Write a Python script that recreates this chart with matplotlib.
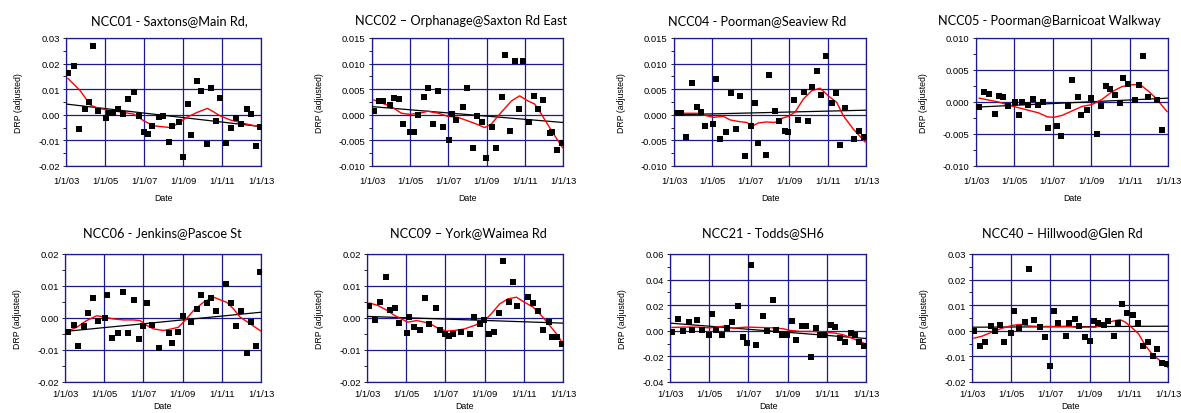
import matplotlib
matplotlib.use("Agg")
import matplotlib.pyplot as plt
import numpy as np
from matplotlib.ticker import MultipleLocator

# ---------------- data (decimal years, DRP adjusted) ----------------
ncc01_t = [2003.10, 2003.41, 2003.65, 2003.96, 2004.16, 2004.40, 2004.64, 2005.03, 2005.22, 2005.39,
           2005.68, 2005.92, 2006.19, 2006.48, 2006.72, 2007.01, 2007.18, 2007.42, 2007.78, 2007.97,
           2008.27, 2008.44, 2008.77, 2009.01, 2009.25, 2009.43, 2009.74, 2009.93, 2010.24, 2010.43,
           2010.68, 2010.92, 2011.23, 2011.47, 2011.72, 2011.96, 2012.27, 2012.47, 2012.73, 2012.95]
ncc01_drp = [0.0164, 0.0192, -0.0056, 0.0022, 0.0051, 0.0269, 0.0014, -0.0014, 0.0007, 0.0007,
             0.0022, 0.0004, 0.0061, 0.0090, -0.0003, -0.0067, -0.0076, -0.0043, -0.0010, -0.0004,
             -0.0106, -0.0044, -0.0030, -0.0166, 0.0043, -0.0080, 0.0132, 0.0094, -0.0115, 0.0103,
             -0.0025, 0.0065, -0.0110, -0.0052, -0.0013, -0.0034, 0.0022, 0.0004, -0.0123, -0.0047]
ncc01_smooth_t = [2003.10, 2003.73, 2004.25, 2004.67, 2005.26, 2005.96, 2006.46, 2006.98, 2007.49, 2008.00,
                  2008.34, 2008.69, 2009.19, 2009.71, 2010.25, 2010.56, 2010.90, 2011.42, 2011.93, 2012.44, 2012.95]
ncc01_smooth = [0.0142, 0.0094, 0.0038, 0.0025, 0.0018, 0.0009, 0.0003, -0.0023, -0.0043, -0.0047,
                -0.0050, -0.0037, -0.0010, 0.0009, 0.0025, 0.0012, -0.0004, -0.0020, -0.0030, -0.0039, -0.0047]
ncc01_trend = [0.0042, -0.0046]

ncc02_t = [2003.10, 2003.35, 2003.59, 2003.92, 2004.17, 2004.40, 2004.64, 2004.97, 2005.20, 2005.39,
           2005.71, 2005.95, 2006.20, 2006.46, 2006.70, 2007.01, 2007.21, 2007.40, 2007.78, 2007.97,
           2008.29, 2008.48, 2008.78, 2008.95, 2009.28, 2009.47, 2009.79, 2009.98, 2010.24, 2010.49,
           2010.68, 2010.92, 2011.24, 2011.48, 2011.69, 2011.94, 2012.30, 2012.42, 2012.69, 2012.95]
ncc02_drp = [0.00065, 0.0026, 0.0026, 0.0019, 0.0033, 0.0031, -0.0017, -0.0033, -0.0033, -0.0001,
             0.0035, 0.0052, -0.0017, 0.0047, -0.0024, -0.0050, 0.0002, -0.0010, 0.0016, 0.0052,
             -0.0064, -0.0003, -0.0014, -0.0084, -0.0024, -0.0064, 0.0035, 0.0116, -0.0031, 0.0106,
             0.0012, 0.0106, -0.0014, 0.0037, 0.0011, 0.0028, -0.0036, -0.0033, -0.0069, -0.0055]
ncc02_smooth_t = [2003.10, 2003.58, 2004.01, 2004.54, 2004.97, 2005.50, 2005.93, 2006.46, 2006.98, 2007.50,
                  2008.03, 2008.46, 2008.90, 2009.25, 2009.77, 2010.30, 2010.73, 2011.17, 2011.52, 2011.87,
                  2012.30, 2012.57, 2012.97]
ncc02_smooth = [0.0029, 0.0022, 0.0016, 0.0003, 0.0001, 0.0003, 0.0007, 0.0003, -0.0003, -0.0005,
                -0.0012, -0.0018, -0.0025, -0.0018, 0.0005, 0.0027, 0.0037, 0.0027, 0.0021, 0.0001,
                -0.0025, -0.0041, -0.0064]
ncc02_trend = [0.0016, -0.0015]

ncc04_t = [2003.10, 2003.35, 2003.63, 2003.95, 2004.20, 2004.39, 2004.63, 2005.02, 2005.20, 2005.40,
           2005.69, 2005.95, 2006.23, 2006.46, 2006.70, 2007.01, 2007.20, 2007.39, 2007.77, 2007.96,
           2008.27, 2008.47, 2008.76, 2008.95, 2009.26, 2009.44, 2009.77, 2009.96, 2010.20, 2010.45,
           2010.64, 2010.90, 2011.21, 2011.45, 2011.65, 2011.91, 2012.40, 2012.66, 2012.91]
ncc04_drp = [0.0003, 0.0003, -0.0044, 0.0063, 0.0016, 0.0005, -0.0022, -0.0018, 0.0069, -0.0048,
             -0.0033, 0.0042, -0.0028, 0.0037, -0.0080, -0.0022, 0.0023, -0.0055, -0.0078, 0.0078,
             0.0008, -0.0012, -0.0031, -0.0033, 0.0028, -0.0010, 0.0045, -0.0012, 0.0055, 0.0086,
             0.0039, 0.0114, 0.0023, 0.0042, -0.0059, 0.0014, -0.0048, -0.0031, -0.0043]
ncc04_smooth_t = [2003.10, 2003.66, 2004.18, 2004.62, 2005.05, 2005.57, 2005.92, 2006.35, 2006.79, 2007.08,
                  2007.39, 2007.83, 2008.26, 2008.61, 2008.95, 2009.30, 2009.74, 2010.17, 2010.61, 2011.04,
                  2011.48, 2011.82, 2012.34, 2012.95]
ncc04_smooth = [0.0003, 0.0003, 0.0003, -0.0001, -0.0005, -0.0003, -0.0010, -0.0013, -0.0015, -0.0022,
                -0.0016, -0.0014, -0.0015, -0.0007, -0.0003, 0.0005, 0.0031, 0.0047, 0.0052, 0.0037,
                0.0024, -0.0002, -0.0028, -0.0053]
ncc04_trend = [0.0000, 0.0009]

ncc05_t = [2003.17, 2003.42, 2003.66, 2003.97, 2004.22, 2004.41, 2004.67, 2005.03, 2005.22, 2005.41,
           2005.71, 2005.97, 2006.23, 2006.49, 2006.73, 2007.22, 2007.41, 2007.77, 2007.99, 2008.30,
           2008.49, 2008.80, 2009.00, 2009.30, 2009.49, 2009.79, 2010.00, 2010.26, 2010.50, 2010.68,
           2010.92, 2011.27, 2011.49, 2011.68, 2011.94, 2012.43, 2012.69]
ncc05_drp = [-0.0008, 0.0015, 0.0013, -0.0019, 0.0009, 0.0008, -0.0007, 0.0000, -0.0021, 0.0000,
             -0.0005, 0.0004, -0.0005, 0.0000, -0.0041, -0.0037, -0.0053, -0.0007, 0.0035, 0.0008,
             -0.0021, -0.0013, 0.0006, -0.0050, -0.0007, 0.0025, 0.0020, 0.0011, -0.0002, 0.0038,
             0.0028, 0.0003, 0.0026, 0.0072, 0.0008, 0.0003, -0.0043]
ncc05_smooth_t = [2003.17, 2003.66, 2004.18, 2004.70, 2005.22, 2005.74, 2006.26, 2006.70, 2007.05, 2007.48,
                  2008.00, 2008.52, 2009.04, 2009.56, 2010.08, 2010.60, 2011.11, 2011.55, 2011.98, 2012.43, 2012.95]
ncc05_smooth = [0.0006, 0.0003, 0.0000, -0.0005, -0.0009, -0.0013, -0.0017, -0.0023, -0.0024, -0.0021,
                -0.0014, -0.0007, -0.0004, 0.0004, 0.0016, 0.0024, 0.0027, 0.0027, 0.0017, 0.0004, -0.0015]
ncc05_trend = [-0.0008, 0.0006]

ncc06_t = [2003.14, 2003.44, 2003.68, 2003.99, 2004.17, 2004.43, 2004.67, 2005.02, 2005.16, 2005.40,
           2005.70, 2005.96, 2006.20, 2006.50, 2006.76, 2007.00, 2007.17, 2007.44, 2007.80, 2008.29,
           2008.46, 2008.78, 2009.02, 2009.45, 2009.75, 2009.94, 2010.23, 2010.45, 2010.69, 2011.23,
           2011.47, 2011.72, 2011.96, 2012.27, 2012.47, 2012.73, 2012.97]
ncc06_drp = [-0.0044, -0.0021, -0.0086, -0.0025, 0.0016, 0.0062, -0.0010, 0.0000, 0.0073, -0.0063,
             -0.0047, 0.0081, -0.0047, 0.0055, -0.0066, -0.0025, 0.0046, -0.0021, -0.0093, -0.0047,
             -0.0078, -0.0044, 0.0006, -0.0013, 0.0029, 0.0073, 0.0046, 0.0062, 0.0023, 0.0106,
             0.0046, -0.0025, 0.0023, -0.0108, -0.0013, -0.0086, 0.0145]
ncc06_smooth_t = [2003.00, 2003.60, 2004.10, 2004.62, 2005.02, 2005.47, 2005.98, 2006.49, 2006.83, 2007.17,
                  2007.51, 2008.02, 2008.44, 2008.78, 2009.12, 2009.55, 2010.06, 2010.57, 2010.91, 2011.25,
                  2011.59, 2011.93, 2012.44, 2013.00]
ncc06_smooth = [-0.0044, -0.0029, -0.0008, 0.0007, 0.0003, -0.0003, -0.0006, -0.0006, -0.0008, -0.0023,
                -0.0034, -0.0039, -0.0034, -0.0029, -0.0008, 0.0023, 0.0049, 0.0065, 0.0057, 0.0049,
                0.0029, 0.0003, -0.0018, -0.0041]
ncc06_trend = [-0.0042, 0.0018]

ncc09_t = [2003.12, 2003.43, 2003.66, 2003.97, 2004.16, 2004.41, 2004.65, 2005.02, 2005.16, 2005.40,
           2005.69, 2005.94, 2006.18, 2006.50, 2006.74, 2006.98, 2007.17, 2007.40, 2007.78, 2008.27,
           2008.44, 2008.77, 2008.99, 2009.24, 2009.46, 2009.75, 2009.94, 2010.24, 2010.43, 2010.67,
           2011.21, 2011.47, 2011.72, 2011.96, 2012.27, 2012.46, 2012.69, 2012.95]
ncc09_drp = [0.0036, -0.0006, 0.0050, 0.0129, 0.0025, 0.0031, -0.0016, -0.0047, 0.0003, -0.0029,
             -0.0039, 0.0063, -0.0020, 0.0032, -0.0039, -0.0049, -0.0055, -0.0049, -0.0044, -0.0049,
             0.0002, -0.0020, -0.0006, -0.0051, -0.0044, 0.0016, 0.0179, 0.0050, 0.0111, 0.0039,
             0.0065, 0.0047, 0.0023, -0.0037, -0.0012, -0.0058, -0.0060, -0.0081]
ncc09_smooth_t = [2003.12, 2003.56, 2003.99, 2004.41, 2004.75, 2005.09, 2005.52, 2005.94, 2006.28, 2006.62,
                  2007.05, 2007.47, 2007.98, 2008.49, 2008.92, 2009.34, 2009.77, 2010.19, 2010.62, 2011.04,
                  2011.47, 2011.89, 2012.32, 2012.74, 2013.00]
ncc09_smooth = [0.0047, 0.0039, 0.0025, 0.0008, -0.0003, -0.0013, -0.0008, -0.0013, -0.0020, -0.0032,
                -0.0041, -0.0039, -0.0034, -0.0023, -0.0013, 0.0013, 0.0044, 0.0060, 0.0065, 0.0049,
                0.0034, 0.0008, -0.0023, -0.0055, -0.0081]
ncc09_trend = [0.0005, -0.0016]

ncc21_t = [2003.10, 2003.39, 2003.65, 2003.95, 2004.14, 2004.38, 2004.63, 2004.99, 2005.13, 2005.36,
           2005.67, 2005.91, 2006.16, 2006.45, 2006.71, 2006.95, 2007.13, 2007.37, 2007.74, 2007.93,
           2008.24, 2008.43, 2008.73, 2008.97, 2009.21, 2009.41, 2009.72, 2009.92, 2010.19, 2010.45,
           2010.64, 2010.88, 2011.20, 2011.44, 2011.67, 2011.93, 2012.25, 2012.44, 2012.66, 2012.90]
ncc21_drp = [-0.0010, 0.0094, 0.0000, 0.0065, 0.0010, 0.0086, 0.0010, -0.0029, 0.0132, 0.0010,
             -0.0036, 0.0021, 0.0065, 0.0197, -0.0047, -0.0094, 0.0517, -0.0114, 0.0112, 0.0000,
             0.0244, 0.0010, -0.0036, -0.0036, 0.0075, -0.0075, 0.0036, 0.0036, -0.0205, 0.0021,
             -0.0036, -0.0036, 0.0042, 0.0029, -0.0057, -0.0091, -0.0018, -0.0036, -0.0091, -0.0122]
ncc21_smooth_t = [2003.10, 2003.68, 2004.36, 2005.04, 2005.72, 2006.23, 2006.91, 2007.59, 2008.27, 2008.78,
                  2009.12, 2009.63, 2010.31, 2010.82, 2011.41, 2011.84, 2012.35, 2012.95]
ncc21_smooth = [0.0026, 0.0029, 0.0029, 0.0023, 0.0036, 0.0021, 0.0029, 0.0026, 0.0023, 0.0016,
                0.0003, -0.0005, -0.0005, -0.0010, -0.0018, -0.0031, -0.0062, -0.0101]
ncc21_trend = [0.0060, -0.0060]

ncc40_t = [2003.10, 2003.41, 2003.66, 2003.97, 2004.16, 2004.41, 2004.65, 2005.01, 2005.14, 2005.38,
           2005.69, 2005.93, 2006.18, 2006.49, 2006.74, 2006.98, 2007.17, 2007.40, 2007.78, 2007.97,
           2008.27, 2008.46, 2008.77, 2009.00, 2009.24, 2009.45, 2009.73, 2009.94, 2010.24, 2010.43,
           2010.67, 2010.93, 2011.21, 2011.47, 2011.71, 2011.96, 2012.25, 2012.44, 2012.69, 2012.95]
ncc40_drp = [0.0000, -0.0061, -0.0042, 0.0019, 0.0000, 0.0023, -0.0042, -0.0009, 0.0079, 0.0010,
             0.0034, 0.0240, 0.0043, 0.0013, -0.0025, -0.0138, 0.0079, 0.0030, -0.0019, 0.0030,
             0.0047, 0.0019, -0.0025, -0.0038, 0.0038, 0.0030, 0.0023, 0.0038, -0.0019, 0.0030,
             0.0103, 0.0070, 0.0062, 0.0032, -0.0061, -0.0042, -0.0100, -0.0070, -0.0126, -0.0131]
ncc40_smooth_t = [2003.10, 2003.51, 2004.02, 2004.53, 2005.05, 2005.47, 2005.89, 2006.41, 2006.91, 2007.43,
                  2007.94, 2008.36, 2008.78, 2009.29, 2009.80, 2010.31, 2010.56, 2010.82, 2011.16, 2011.50,
                  2011.84, 2012.18, 2012.61, 2013.00]
ncc40_smooth = [-0.0029, -0.0021, -0.0005, 0.0010, 0.0021, 0.0025, 0.0019, 0.0017, 0.0017, 0.0017,
                0.0018, 0.0013, 0.0014, 0.0014, 0.0030, 0.0040, 0.0043, 0.0034, 0.0012, -0.0012,
                -0.0057, -0.0090, -0.0118, -0.0144]
ncc40_trend = [0.0014, 0.0018]

titles = ["NCC01 - Saxtons@Main Rd,", "NCC02 \u2013 Orphanage@Saxton Rd East",
          "NCC04 - Poorman@Seaview Rd", "NCC05 - Poorman@Barnicoat Walkway",
          "NCC06 - Jenkins@Pascoe St", "NCC09 \u2013 York@Waimea Rd",
          "NCC21 - Todds@SH6", "NCC40 \u2013 Hillwood@Glen Rd"]

x_ticks = [2003, 2005, 2007, 2009, 2011, 2013]
x_tick_labels = ["1/1/03", "1/1/05", "1/1/07", "1/1/09", "1/1/11", "1/1/13"]
trend_t = [2003.0, 2013.0]

# y axis settings per panel: (min, max, step, decimals)
y_axes = [(-0.02, 0.03, 0.01, 2), (-0.010, 0.015, 0.005, 3), (-0.010, 0.015, 0.005, 3),
          (-0.010, 0.010, 0.005, 3), (-0.02, 0.02, 0.01, 2), (-0.02, 0.02, 0.01, 2),
          (-0.04, 0.06, 0.02, 2), (-0.02, 0.03, 0.01, 2)]

sites = [
    (ncc01_t, ncc01_drp, ncc01_smooth_t, ncc01_smooth, ncc01_trend),
    (ncc02_t, ncc02_drp, ncc02_smooth_t, ncc02_smooth, ncc02_trend),
    (ncc04_t, ncc04_drp, ncc04_smooth_t, ncc04_smooth, ncc04_trend),
    (ncc05_t, ncc05_drp, ncc05_smooth_t, ncc05_smooth, ncc05_trend),
    (ncc06_t, ncc06_drp, ncc06_smooth_t, ncc06_smooth, ncc06_trend),
    (ncc09_t, ncc09_drp, ncc09_smooth_t, ncc09_smooth, ncc09_trend),
    (ncc21_t, ncc21_drp, ncc21_smooth_t, ncc21_smooth, ncc21_trend),
    (ncc40_t, ncc40_drp, ncc40_smooth_t, ncc40_smooth, ncc40_trend),
]

# ---------------- layout (pixels) ----------------
W, H = 1181, 414
boxes = [(66, 39, 261, 167), (372, 39, 563, 167), (674, 39, 866, 167), (976, 39, 1168, 167),
         (65, 255, 261, 383), (367, 255, 563, 383), (670, 255, 866, 383), (972, 255, 1168, 383)]
title_cx = [169, 461, 757, 1049, 162, 468, 763, 1062]

NAVY = "#1a1a8c"
plt.rcParams['font.family'] = ['Liberation Sans', 'DejaVu Sans']

fig = plt.figure(figsize=(W / 100, H / 100), dpi=100)
fig.patch.set_facecolor("white")

for i, (b, site, title, ya) in enumerate(zip(boxes, sites, titles, y_axes)):
    x0, y0, x1, y1 = b
    ax = fig.add_axes([x0 / W, 1 - y1 / H, (x1 - x0) / W, (y1 - y0) / H])
    t, v, st, sv, tr = site
    ymin, ymax, step, dec = ya

    ax.plot(trend_t, tr, color="black", lw=0.9, zorder=3)
    ax.plot(st, sv, color="red", lw=1.0, zorder=4)
    ax.plot(t, v, linestyle="none", marker="s", ms=3.9, color="black", mec="black", mew=0, zorder=5)

    ax.set_xlim(2003, 2013)
    ax.set_ylim(ymin, ymax)
    ax.set_xticks(x_ticks)
    ax.set_xticklabels(x_tick_labels)
    yt = np.arange(ymin, ymax + step / 2, step)
    ax.set_yticks(yt)
    ax.set_yticklabels([f"{y:.{dec}f}" if abs(y) > 1e-12 else f"{0:.{dec}f}" for y in yt])
    ax.yaxis.set_minor_locator(MultipleLocator(step / 2))

    ax.grid(True, which="major", color=NAVY, lw=0.9)
    ax.set_axisbelow(True)
    for s in ax.spines.values():
        s.set_color(NAVY)
        s.set_linewidth(0.9)

    ax.tick_params(axis="both", which="major", labelsize=6.8, length=2.5, width=0.6,
                   color="black", pad=2, direction="out")
    ax.tick_params(axis="y", which="minor", length=2.5, width=0.6, color="black", direction="out")
    ax.tick_params(axis="x", which="major", length=0, pad=7 if i < 4 else 5)

    ax.set_ylabel("DRP (adjusted)", fontsize=6.3, labelpad=11)
    ax.set_xlabel("Date", fontsize=6.3, labelpad=6 if i < 4 else 2)
    ax.set_title(title, fontsize=9.2, family=["Lato", "DejaVu Sans"], pad=10 if i < 4 else 13,
                 x=(title_cx[i] - x0) / (x1 - x0))

fig.savefig("out.png", dpi=100, facecolor="white")
